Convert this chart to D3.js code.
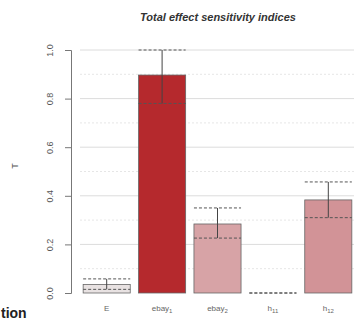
<!DOCTYPE html>
<meta charset="utf-8">
<script src="https://d3js.org/d3.v7.min.js"></script>
<style>
  body { margin: 0; background: #fff; }
  text { font-family: "Liberation Sans", Arial, sans-serif; }
</style>
<div id="chart"></div>
<script>

  // data
  var categories = ["E", "ebay1", "ebay2", "h11", "h12"];
  var labelBase = ["E", "ebay", "ebay", "h", "h"];
  var labelSub = ["", "1", "2", "11", "12"];
  var values = [0.035, 0.897, 0.284, 0, 0.383];
  var lower = [0.015, 0.78, 0.226, 0, 0.31];
  var upper = [0.058, 1.0, 0.35, 0, 0.457];
  var fills = ["#e8e2e2", "#b5292d", "#d7a3a6", "none", "#d29397"];
  var yTicks = [0, 0.2, 0.4, 0.6, 0.8, 1.0];

  var width = 354, height = 320;

  var svg = d3.select("#chart").append("svg")
      .attr("width", width)
      .attr("height", height);

  var x = d3.scaleBand()
      .domain(categories)
      .range([79, 356])
      .paddingInner(0.15)
      .paddingOuter(0.075);

  var y = d3.scaleLinear()
      .domain([0, 1])
      .range([293, 50]);

  // title
  svg.append("text")
      .attr("x", 218).attr("y", 21)
      .attr("text-anchor", "middle")
      .style("font-size", "11px")
      .style("font-weight", "bold")
      .style("font-style", "italic")
      .style("fill", "#333")
      .text("Total effect sensitivity indices");

  // grid: minor every 0.1 and major every 0.2
  var minor = d3.range(1, 10, 2).map(function(d) { return d / 10; });
  svg.append("g").selectAll("line.minor")
    .data(minor).enter().append("line")
      .attr("x1", 80).attr("x2", width)
      .attr("y1", function(d) { return y(d); })
      .attr("y2", function(d) { return y(d); })
      .style("stroke", "#e6e6e6")
      .style("stroke-dasharray", "2,2");
  svg.append("g").selectAll("line.major")
    .data(yTicks.slice(1)).enter().append("line")
      .attr("x1", 80).attr("x2", width)
      .attr("y1", function(d) { return y(d); })
      .attr("y2", function(d) { return y(d); })
      .style("stroke", "#dcdcdc");

  // y axis
  var yAxis = svg.append("g")
      .attr("transform", "translate(71,0)")
      .call(d3.axisLeft(y).tickValues(yTicks).tickSize(6).tickFormat(d3.format(".1f")));
  yAxis.select(".domain").attr("stroke", "#777");
  yAxis.selectAll(".tick line").attr("stroke", "#777");
  yAxis.selectAll(".tick text")
      .attr("x", 0).attr("dy", 0)
      .attr("transform", "translate(-18,0) rotate(-90)")
      .attr("text-anchor", "middle")
      .style("font-size", "9px")
      .style("fill", "#555");

  svg.append("text")
      .attr("transform", "translate(18,166) rotate(-90)")
      .attr("text-anchor", "middle")
      .style("font-size", "9px")
      .style("fill", "#555")
      .text("T");

  // bars
  var idx = d3.range(categories.length);
  svg.append("g").selectAll("rect")
    .data(idx).enter().append("rect")
      .filter(function(i) { return values[i] > 0; })
      .attr("x", function(i) { return x(categories[i]); })
      .attr("y", function(i) { return y(values[i]); })
      .attr("width", x.bandwidth())
      .attr("height", function(i) { return y(0) - y(values[i]); })
      .style("fill", function(i) { return fills[i]; })
      .style("stroke", "#666")
      .style("stroke-width", 0.8);

  // error bars
  var eb = svg.append("g");
  idx.forEach(function(i) {
    var x0 = x(categories[i]), cx = x0 + x.bandwidth() / 2;
    [lower[i], upper[i]].forEach(function(v) {
      eb.append("line")
        .attr("x1", x0).attr("x2", x0 + x.bandwidth())
        .attr("y1", y(v)).attr("y2", y(v))
        .style("stroke", "#555")
        .style("stroke-dasharray", "3,2");
    });
    eb.append("line")
      .attr("x1", cx).attr("x2", cx)
      .attr("y1", y(lower[i])).attr("y2", y(upper[i]))
      .style("stroke", "#444");
  });

  // x labels with subscripts
  var xl = svg.append("g").selectAll("text")
    .data(idx).enter().append("text")
      .attr("x", function(i) { return x(categories[i]) + x.bandwidth() / 2; })
      .attr("y", 311)
      .attr("text-anchor", "middle")
      .style("font-size", "8px")
      .style("fill", "#666");
  xl.append("tspan").text(function(i) { return labelBase[i]; });
  xl.append("tspan")
      .attr("dy", 2)
      .style("font-size", "6px")
      .text(function(i) { return labelSub[i]; });

  // fragment of neighbouring panel text
  svg.append("text")
      .attr("x", 1).attr("y", 318)
      .style("font-size", "14px")
      .style("font-weight", "bold")
      .style("fill", "#222")
      .text("tion");

</script>
